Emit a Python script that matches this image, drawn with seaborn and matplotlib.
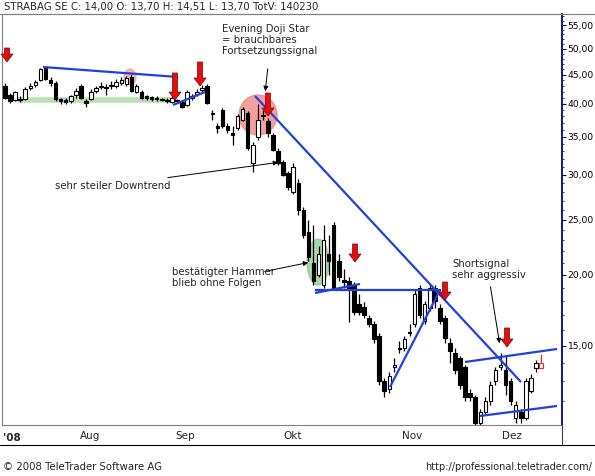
import numpy as np
import matplotlib
matplotlib.use("Agg")
import matplotlib.pyplot as plt
import seaborn as sns
from matplotlib.patches import Ellipse, FancyArrow
from matplotlib.ticker import FixedLocator, NullFormatter

# candles (open, close, high, low)
opens = [43.0, 41.5, 40.6, 40.8, 40.8, 42.6, 43.2, 44.0, 46.2, 44.0, 43.5, 40.6, 40.4, 40.4, 41.5, 43.0, 40.4, 40.8, 42.2, 42.8,
         42.6, 42.9, 43.0, 43.5, 43.4, 44.6, 42.0, 42.0, 41.2, 41.0, 40.9, 40.8, 40.6, 40.3, 40.6, 40.3, 39.8, 41.0, 41.6, 42.3,
         43.0, 38.5, 36.5, 39.0, 36.5, 35.6, 36.2, 37.5, 38.5, 31.5, 35.0, 38.0, 37.3, 35.2, 33.0, 31.6, 30.2, 28.0, 29.0, 26.0,
         23.8, 21.0, 20.0, 19.2, 21.8, 24.5, 21.2, 19.6, 19.5, 19.2, 17.8, 17.6, 16.8, 16.4, 15.6, 13.0, 12.6, 13.8, 14.8, 14.9,
         15.8, 16.4, 19.0, 16.6, 17.5, 19.0, 17.5, 16.8, 15.2, 14.6, 14.3, 13.8, 12.4, 12.2, 11.0, 11.5, 12.0, 13.0, 13.8, 13.6,
         13.0, 11.2, 11.5, 11.2, 12.5, 13.7, 13.7]
closes = [41.0, 40.5, 42.0, 40.6, 42.5, 42.9, 43.6, 46.0, 44.2, 43.5, 40.8, 40.5, 40.3, 41.2, 42.2, 41.0, 40.2, 42.0, 42.6, 43.0,
          42.8, 43.2, 43.6, 44.0, 44.4, 42.2, 43.0, 41.0, 41.0, 40.8, 40.7, 40.6, 40.4, 41.0, 40.4, 39.5, 42.0, 41.2, 42.0, 42.6,
          40.2, 38.3, 36.3, 36.5, 36.0, 35.2, 38.0, 39.2, 33.5, 33.8, 37.5, 38.2, 35.5, 33.2, 31.5, 30.0, 28.5, 31.0, 26.0, 23.5,
          21.5, 19.5, 21.8, 23.0, 21.2, 19.0, 19.8, 19.4, 18.8, 17.2, 17.2, 17.0, 16.4, 15.4, 13.0, 12.5, 13.3, 13.9, 14.9, 15.4,
          15.9, 18.5, 17.0, 17.8, 19.0, 18.0, 16.6, 15.5, 14.7, 13.6, 12.8, 12.2, 12.2, 11.0, 11.5, 12.0, 12.8, 13.6, 13.9, 12.8,
          12.0, 11.8, 11.2, 13.0, 13.2, 14.0, 14.0]
highs = [43.5, 41.8, 42.2, 41.2, 42.8, 43.5, 44.0, 46.3, 46.5, 44.5, 43.8, 41.0, 40.9, 41.5, 42.6, 43.3, 40.8, 42.4, 43.0, 43.6,
         43.3, 43.8, 44.2, 44.6, 44.8, 45.2, 43.3, 42.3, 41.5, 41.3, 41.2, 41.0, 40.9, 41.3, 40.8, 40.5, 42.3, 41.6, 42.4, 43.2,
         43.3, 39.0, 37.0, 39.3, 37.0, 36.5, 38.4, 39.5, 38.8, 34.2, 40.0, 39.0, 37.8, 35.5, 33.5, 31.9, 30.5, 31.5, 29.5, 26.3,
         25.0, 24.5, 22.5, 24.5, 23.5, 24.8, 21.8, 20.5, 19.8, 19.4, 18.5, 17.9, 17.0, 16.6, 15.8, 13.2, 13.5, 14.3, 15.3, 15.6,
         16.4, 18.9, 19.2, 18.0, 19.3, 19.2, 17.8, 17.0, 15.5, 14.9, 14.4, 13.9, 12.6, 12.3, 11.6, 12.2, 13.0, 13.8, 14.6, 14.4,
         13.2, 12.0, 11.6, 13.2, 13.4, 14.2, 14.5]
lows = [40.8, 40.2, 40.4, 40.3, 40.6, 42.3, 42.8, 43.8, 44.0, 43.0, 40.5, 40.0, 39.9, 40.2, 41.0, 40.8, 39.5, 40.6, 41.8, 42.5,
        41.5, 42.5, 42.6, 43.2, 43.0, 42.0, 41.8, 40.8, 40.6, 40.5, 40.4, 40.4, 40.2, 40.1, 40.2, 39.3, 39.6, 40.6, 41.2, 42.0,
        40.0, 37.5, 35.5, 36.2, 35.6, 33.8, 36.0, 37.3, 33.2, 30.3, 34.5, 37.5, 35.0, 33.0, 31.2, 29.8, 28.2, 27.8, 25.5, 23.2,
        21.2, 19.2, 19.8, 19.0, 20.0, 18.8, 19.5, 19.0, 16.5, 17.0, 17.0, 16.8, 16.2, 15.2, 12.8, 12.2, 12.4, 13.5, 14.6, 14.7,
        15.6, 16.2, 16.8, 16.4, 17.3, 17.5, 16.4, 15.2, 14.0, 13.4, 12.6, 12.0, 12.0, 10.9, 10.9, 11.4, 11.8, 12.8, 13.6, 12.3,
        11.8, 11.0, 11.0, 11.1, 12.4, 13.5, 13.7]

price_ticks = [15, 20, 25, 30, 35, 40, 45, 50, 55]
month_labels = ["Aug", "Sep", "Okt", "Nov", "Dez"]
month_px = [90, 185, 293, 412, 512]

# pixel <-> data mapping of the original screenshot
X0, STEP = 5, (541 - 5) / (len(opens) - 1)
def px(x, y):
    return (x - X0) / STEP, 15 * np.exp((346 - y) / 247)

sns.set_style("white")
plt.rcParams["font.family"] = ["DejaVu Sans"]

W, H = 595, 476
fig = plt.figure(figsize=(W / 100, H / 100), dpi=100)
ax = fig.add_axes([2 / W, 1 - 425 / H, 560 / W, 411 / H])
ax.set_yscale("log")
ax.set_xlim(px(2, 0)[0], px(562, 0)[0])
ax.set_ylim(px(0, 425)[1], px(0, 14)[1])

idx = np.arange(len(opens))
o, c, h, l = map(np.array, (opens, closes, highs, lows))
colors = np.where(c >= o, "white", "black")
colors[-1] = "white"
edge = ["black"] * (len(o) - 1) + ["#e03030"]
ax.vlines(idx, l, h, colors=edge, lw=0.9, zorder=2)
bot = np.minimum(o, c)
top = np.maximum(o, c)
top = np.where(top / bot < 1.006, bot * 1.006, top)
ax.bar(idx, top - bot, bottom=bot, width=0.7, color=colors, edgecolor=edge, lw=0.8, zorder=3)

# trend lines
def seg(p1, p2, color="#2040e0", lw=1.6, z=4):
    a, b = px(*p1), px(*p2)
    ax.plot([a[0], b[0]], [a[1], b[1]], color=color, lw=lw, zorder=z, solid_capstyle="butt")

seg((18, 100), (172, 100), color="#b8e0b0", lw=4, z=1)
seg((43, 67), (178, 77))
seg((173, 105), (205, 92))
seg((255, 96), (521, 382))
seg((315, 290), (441, 290))
seg((315, 293), (360, 284))
seg((390, 387), (440, 290))
seg((465, 362), (557, 349))
seg((480, 416), (557, 406))

# highlight circles (figure pixels), drawn behind the transparent axes
for (cx, cy, w, hh, col) in [(130, 77, 12, 16, "#f0a0a0"), (258, 115, 38, 40, "#f08080"), (318, 262, 22, 46, "#90c890")]:
    fig.patches.append(Ellipse((cx / W, 1 - cy / H), w / W, hh / H, color=col, alpha=0.75,
                               transform=fig.transFigure, figure=fig, zorder=-1))
ax.patch.set_alpha(0)

# red signal arrows (figure pixels)
for (ax_x, y0, y1) in [(175, 73, 100), (200, 62, 86), (268, 93, 116), (355, 244, 262), (445, 282, 300), (507, 328, 347), (7, 48, 62)]:
    fig.patches.append(FancyArrow(ax_x / W, 1 - y0 / H, 0, -(y1 - y0) / H, width=5 / W, head_width=12 / W,
                                  head_length=8 / H, length_includes_head=True, color="#e01010",
                                  ec="#800000", lw=0.5, transform=fig.transFigure, figure=fig, zorder=10))

# annotations
def note(text, xy_txt, xy_from, xy_to, ha="left"):
    fig.text(xy_txt[0] / W, 1 - xy_txt[1] / H, text, fontsize=7.3, ha=ha, va="top", linespacing=1.1)
    fig.add_artist(matplotlib.patches.FancyArrowPatch((xy_from[0] / W, 1 - xy_from[1] / H), (xy_to[0] / W, 1 - xy_to[1] / H),
                   transform=fig.transFigure, arrowstyle="-|>", mutation_scale=7, lw=0.7, color="black"))

note("Evening Doji Star\n= brauchbares\nFortsetzungssignal", (222, 24), (268, 66), (265, 94))
note("sehr steiler Downtrend", (55, 181), (165, 178), (281, 162))
note("bestätigter Hammer\nblieb ohne Folgen", (172, 267), (262, 272), (311, 262))
note("Shortsignal\nsehr aggressiv", (452, 259), (490, 284), (500, 346))

# axes styling
ax.yaxis.tick_right()
ax.yaxis.set_major_locator(FixedLocator(price_ticks))
ax.yaxis.set_minor_locator(FixedLocator(np.arange(12, 58, 1)))
ax.yaxis.set_minor_formatter(NullFormatter())
ax.set_yticklabels([f"{v},00" for v in price_ticks], fontsize=6.6)
ax.tick_params(axis="y", which="major", length=3, direction="out", right=True, colors="black", pad=1)
ax.tick_params(axis="y", which="minor", length=1.5, direction="out", right=True)
ax.set_xticks([px(p, 0)[0] for p in month_px])
ax.set_xticklabels(month_labels, fontsize=7.5)
ax.tick_params(axis="x", length=3, direction="in", pad=4)
for s in ["left", "top", "bottom"]:
    ax.spines[s].set_color("#808080")
ax.spines["right"].set_color("#0000a0")
ax.spines["right"].set_linewidth(1.3)

fig.text(3 / W, 1 - 443 / H, "'08", fontsize=7.5, fontweight="bold", va="bottom")
fig.add_artist(plt.Line2D([0, 1], [1 - 445 / H] * 2, color="black", lw=0.8, transform=fig.transFigure))
fig.add_artist(plt.Line2D([562 / W] * 2, [1 - 445 / H, 1 - 425 / H], color="#404040", lw=0.8, transform=fig.transFigure))
fig.add_artist(plt.Line2D([0, 1], [1 - 14 / H] * 2, color="#808080", lw=0.8, transform=fig.transFigure))
fig.text(4 / W, 1 - 2 / H, "STRABAG SE C: 14,00 O: 13,70 H: 14,51 L: 13,70 TotV: 140230", fontsize=7.3, va="top")
fig.text(3 / W, 1 - 467 / H, "© 2008 TeleTrader Software AG", fontsize=7.3, va="center")
fig.text(592 / W, 1 - 467 / H, "http://professional.teletrader.com/", fontsize=7, va="center", ha="right")

fig.savefig("out.png", dpi=100)
